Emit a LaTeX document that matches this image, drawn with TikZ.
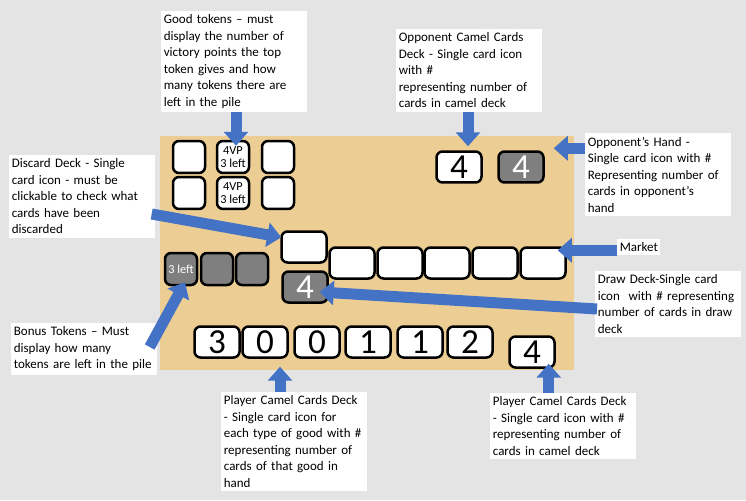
\documentclass[tikz,border=0pt]{standalone}
\usepackage{fontspec}
\setmainfont{Carlito}
\usetikzlibrary{arrows.meta,calc}
\definecolor{bggray}{RGB}{228,228,228}
\definecolor{board}{RGB}{236,206,148}
\definecolor{arrowblue}{RGB}{68,114,196}
\definecolor{cardgray}{RGB}{127,127,127}

\begin{document}
\begin{tikzpicture}[x=0.02cm,y=-0.02cm,
    card/.style={draw,line width=0.05cm,rounded corners=0.12cm,fill=white,minimum width=0.9cm,minimum height=0.62cm,inner sep=0pt,font=\fontsize{20}{20}\selectfont},
    token/.style={card,minimum width=0.64cm,minimum height=0.64cm,align=center,font=\fontsize{7}{7}\selectfont},
    dark/.style={fill=cardgray,text=white},
    note/.style={fill=white,anchor=north west,align=left,inner xsep=0.05cm,inner ysep=0.07cm,text width=2.82cm,font=\fontsize{7.4}{9.4}\selectfont},
    bluearrow/.style={arrowblue,line width=0.22cm,-{Triangle[width=0.48cm,length=0.28cm]}}]
    % background and board
    \fill[bggray] (0,0) rectangle (746,500);
    \fill[board] (160,136) rectangle (574,370);
    % good tokens
    \node[token] (gt11) at (189,157) {};
    \node[token] (gt12) at (233,157) {4VP\\3 left};
    \node[token] (gt13) at (278,157) {};
    \node[token] (gt21) at (189,193) {};
    \node[token] (gt22) at (233,193) {4VP\\3 left};
    \node[token] (gt23) at (278,193) {};
    % opponent
    \node[card] (oppcamel) at (459,167) {4};
    \node[card,dark] (opphand) at (521,167) {4};
    % discard, market, draw deck
    \node[card] (discard) at (304,247) {};
    \node[card] (m1) at (352,263) {};
    \node[card] (m2) at (400,263) {};
    \node[card] (m3) at (447,263) {};
    \node[card] (m4) at (495,263) {};
    \node[card] (m5) at (543,263) {};
    \node[card,dark] (drawdeck) at (305,287) {4};
    % bonus tokens
    \node[token,dark] (b1) at (181,269) {3 left};
    \node[token,dark] (b2) at (217,269) {};
    \node[token,dark] (b3) at (252,269) {};
    % player
    \node[card] (p1) at (217,342) {3};
    \node[card] (p2) at (265,342) {0};
    \node[card] (p3) at (317,342) {0};
    \node[card] (p4) at (368,342) {1};
    \node[card] (p5) at (420,342) {1};
    \node[card] (p6) at (470,342) {2};
    \node[card] (pcamel) at (532,352) {4};
    % notes
    \node[note] (goodnote) at (161,11) {Good tokens -- must\\display the number of\\victory points the top\\token gives and how\\many tokens there are\\left in the pile};
    \node[note] (oppcamelnote) at (396,29) {Opponent Camel Cards\\Deck - Single card icon\\with \#\\representing number of\\cards in camel deck};
    \node[note] (opphandnote) at (585,133) {Opponent’s Hand -\\Single card icon with \#\\Representing number of\\cards in opponent’s\\hand};
    \node[note] (discardnote) at (9,155) {Discard Deck - Single\\card icon - must be\\clickable to check what\\cards have been\\discarded};
    \node[note,text width=] (marketnote) at (617,239) {Market};
    \node[note] (drawnote) at (595,271) {Draw Deck-Single card\\icon\ \ with \# representing\\number of cards in draw\\deck};
    \node[note] (bonusnote) at (11,323) {Bonus Tokens -- Must\\display how many\\tokens are left in the pile};
    \node[note] (goodsnote) at (221,392) {Player Camel Cards Deck\\- Single card icon for\\each type of good with \#\\representing number of\\cards of that good in\\hand};
    \node[note] (camelnote) at (490,393) {Player Camel Cards Deck\\- Single card icon with \#\\representing number of\\cards in camel deck};
    % arrows
    \coordinate (gttip) at ($(gt12.north)+(3,6)$);
    \coordinate (octip) at ($(oppcamel.north)+(9,-4)$);
    \coordinate (ohtip) at ($(opphand.north east)+(9,-2)$);
    \coordinate (dctip) at ($(discard.north west)+(1,7)$);
    \coordinate (mktip) at ($(m5.north east)+(-9,4)$);
    \coordinate (ddtip) at ($(drawdeck.east)+(-9,5)$);
    \coordinate (bntip) at ($(b1.south)+(4,-4)$);
    \coordinate (pgtip) at ($(p2.south)+(15,8)$);
    \coordinate (pctip) at ($(pcamel.south east)+(-7,-5)$);
    \draw[bluearrow] (gttip |- goodnote.south) -- (gttip);
    \draw[bluearrow] (octip |- oppcamelnote.south) -- (octip);
    \draw[bluearrow] (ohtip -| opphandnote.west) -- (ohtip);
    \draw[bluearrow] ($(discardnote.north east)+(-4,59)$) -- (dctip);
    \draw[bluearrow] (mktip -| marketnote.west) -- (mktip);
    \draw[bluearrow] ($(drawnote.north west)+(2,38)$) -- (ddtip);
    \draw[bluearrow] ($(bonusnote.north east)+(-8,24)$) -- (bntip);
    \draw[bluearrow] (pgtip |- goodsnote.north) -- (pgtip);
    \draw[bluearrow] (pctip |- camelnote.north) -- (pctip);
\end{tikzpicture}
\end{document}
